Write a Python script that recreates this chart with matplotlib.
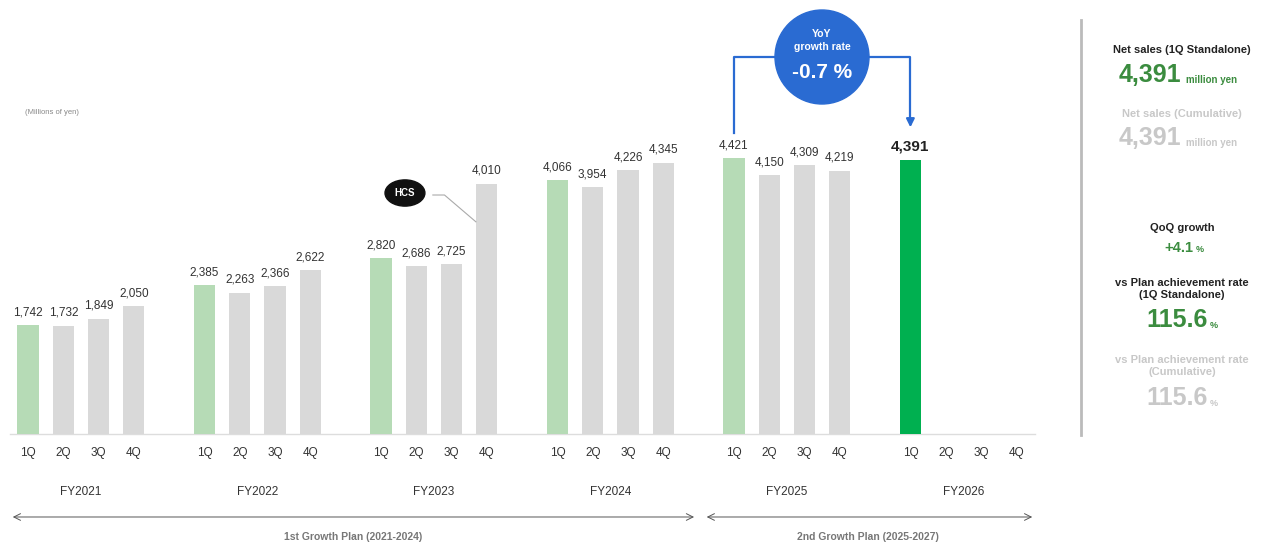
import numpy as np
import matplotlib
matplotlib.use('Agg')
import matplotlib.pyplot as plt
from matplotlib.patches import Circle, Ellipse

plt.rcParams['font.family'] = ['Liberation Sans', 'DejaVu Sans']

# datos
years = ['FY2021', 'FY2022', 'FY2023', 'FY2024', 'FY2025', 'FY2026']
quarters = ['1Q', '2Q', '3Q', '4Q']
fy2021 = [1742, 1732, 1849, 2050]
fy2022 = [2385, 2263, 2366, 2622]
fy2023 = [2820, 2686, 2725, 4010]
fy2024 = [4066, 3954, 4226, 4345]
fy2025 = [4421, 4150, 4309, 4219]
fy2026 = [4391, None, None, None]
sales = [fy2021, fy2022, fy2023, fy2024, fy2025, fy2026]
plans = ['1st Growth Plan (2021-2024)', '2nd Growth Plan (2025-2027)']

W, H = 1262, 549
fig = plt.figure(figsize=(W / 100, H / 100), dpi=100)

def fx(x):  # pixel -> fraccion
    return x / W

def fy(y):
    return 1 - y / H

ax = fig.add_axes([fx(10), fy(434), fx(1035) - fx(10), fy(0) - fy(434)])
ax.set_xlim(-0.51, 28.53)
ax.set_ylim(0, 6955)
ax.axis('off')

GREEN_L = '#b6dbb6'
GREY = '#d9d9d9'
GREEN = '#00b050'
DARK_GREEN = '#3b8c3f'
BLUE = '#2a6bd2'
LIGHT = '#c8c8c8'

for g, vals in enumerate(sales):
    for q, v in enumerate(vals):
        xi = g * 5 + q
        ax.text(xi, -300, quarters[q], ha='center', va='center', fontsize=8.5,
                color='#333333', clip_on=False)
        if v is None:
            continue
        last = (g == len(sales) - 1)
        col = GREEN if last else (GREEN_L if q == 0 else GREY)
        ax.bar(xi, v, width=0.6, color=col, zorder=2)
        ax.annotate(f'{v:,}', (xi, v), xytext=(0, 5), textcoords='offset points',
                    ha='center', va='bottom',
                    fontsize=11 if last else 8.5,
                    fontweight='bold' if last else 'normal',
                    color='#222222' if last else '#333333')
    ax.text(g * 5 + 1.5, -930, years[g], ha='center', va='center', fontsize=8.5,
            color='#333333', clip_on=False)

# linea base
ax.plot([-0.51, 28.53], [0, 0], color='#dddddd', lw=1, clip_on=False, zorder=1)

# flechas de los planes
arr = dict(arrowstyle='<->', color='#555555', lw=0.7, mutation_scale=12)
ax.annotate('', xy=(-0.51, -1330), xytext=(18.95, -1330), arrowprops=arr,
            annotation_clip=False)
ax.annotate('', xy=(19.15, -1330), xytext=(28.53, -1330), arrowprops=arr,
            annotation_clip=False)
ax.text(9.22, -1650, plans[0], ha='center', va='center', fontsize=7.5,
        fontweight='bold', color='#777777', clip_on=False)
ax.text(23.8, -1650, plans[1], ha='center', va='center', fontsize=7.5,
        fontweight='bold', color='#777777', clip_on=False)

fig.text(fx(25), fy(113), '(Millions of yen)', fontsize=5.5, color='#888888',
         va='center')

# logo HCS
ax.add_patch(Ellipse((10.68, 3862), 1.13, 420, color='#111111', clip_on=False, zorder=3))
ax.text(10.68, 3862, 'HCS', ha='center', va='center', fontsize=7, fontweight='bold',
        color='white', zorder=4)
ax.plot([11.47, 11.8, 12.69], [3830, 3830, 3400], color='#aaaaaa', lw=0.8, zorder=3)

# bracket YoY
yb = 6042
ax.plot([20, 20, 25, 25], [4824, yb, yb, 5000], color=BLUE, lw=1.6, zorder=3)
ax.annotate('', xy=(25, 4870), xytext=(25, 5100),
            arrowprops=dict(arrowstyle='-|>', color=BLUE, lw=1.6, mutation_scale=12))
circ = Circle((822, H - 57), 47, transform=None, color=BLUE, zorder=5)
fig.patches.append(circ)
fig.text(fx(822), fy(34), 'YoY', ha='center', va='center', fontsize=7.5,
         fontweight='bold', color='white', zorder=6)
fig.text(fx(822), fy(47), 'growth rate', ha='center', va='center', fontsize=7.5,
         fontweight='bold', color='white', zorder=6)
fig.text(fx(822), fy(72), '-0.7 %', ha='center', va='center', fontsize=15,
         fontweight='bold', color='white', zorder=6)

# panel derecho
fig.add_artist(plt.Line2D([fx(1081), fx(1081)], [fy(20), fy(435)], color='#bbbbbb', lw=2))
cx = fx(1182)
fig.text(cx, fy(50), 'Net sales (1Q Standalone)', ha='center', va='center',
         fontsize=8, fontweight='bold', color='#222222')
fig.text(fx(1181), fy(75), '4,391', ha='right', va='center', fontsize=18,
         fontweight='bold', color=DARK_GREEN)
fig.text(fx(1186), fy(80), 'million yen', ha='left', va='center', fontsize=7,
         fontweight='bold', color=DARK_GREEN)
fig.text(cx, fy(114), 'Net sales (Cumulative)', ha='center', va='center',
         fontsize=8, fontweight='bold', color=LIGHT)
fig.text(fx(1181), fy(138), '4,391', ha='right', va='center', fontsize=18,
         fontweight='bold', color=LIGHT)
fig.text(fx(1186), fy(143), 'million yen', ha='left', va='center', fontsize=7,
         fontweight='bold', color=LIGHT)

fig.text(cx, fy(228), 'QoQ growth', ha='center', va='center', fontsize=8,
         fontweight='bold', color='#222222')
fig.text(fx(1193), fy(248), '+4.1', ha='right', va='center', fontsize=10.5,
         fontweight='bold', color=DARK_GREEN)
fig.text(fx(1196), fy(250), '%', ha='left', va='center', fontsize=6.5,
         fontweight='bold', color=DARK_GREEN)

fig.text(cx, fy(289), 'vs Plan achievement rate\n(1Q Standalone)', ha='center',
         va='center', fontsize=8, fontweight='bold', color='#222222',
         linespacing=1.15)
fig.text(fx(1208), fy(320), '115.6', ha='right', va='center', fontsize=18,
         fontweight='bold', color=DARK_GREEN)
fig.text(fx(1210), fy(325), '%', ha='left', va='center', fontsize=6.5,
         fontweight='bold', color=DARK_GREEN)

fig.text(cx, fy(366), 'vs Plan achievement rate\n(Cumulative)', ha='center',
         va='center', fontsize=8, fontweight='bold', color=LIGHT, linespacing=1.15)
fig.text(fx(1208), fy(398), '115.6', ha='right', va='center', fontsize=18,
         fontweight='bold', color=LIGHT)
fig.text(fx(1210), fy(403), '%', ha='left', va='center', fontsize=6.5,
         fontweight='bold', color=LIGHT)

fig.savefig('out.png', dpi=100)
